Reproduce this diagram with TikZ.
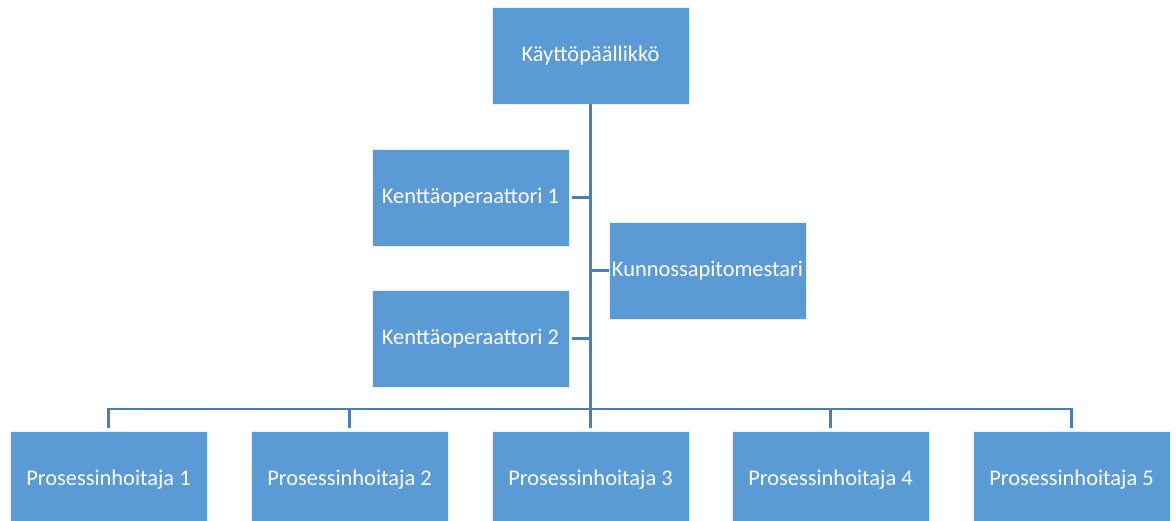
\documentclass[tikz,border=0pt]{standalone}
\usepackage{fontspec}
\setmainfont{Carlito}
\definecolor{boxfill}{HTML}{5B9BD5}
\definecolor{linkcol}{HTML}{4A7EBB}
\begin{document}
\begin{tikzpicture}[x=1pt,y=-1pt,
  orgbox/.style={draw=white!85!boxfill, line width=0.6pt, fill=boxfill, text=white,
    minimum width=197pt, minimum height=97pt, inner sep=0pt, font=\fontsize{22.4}{26}\selectfont},
  link/.style={draw=linkcol, line width=2.4pt},
  trunk/.style={draw=linkcol, line width=3.4pt}]
\useasboundingbox (0,0) rectangle (1176,521);
\node[orgbox] (top) at (590.5,55.5) {Käyttöpäällikkö};
\node[orgbox] (k1) at (470.5,197.5) {Kenttäoperaattori 1};
\node[orgbox] (k2) at (470.5,338.5) {Kenttäoperaattori 2};
\node[orgbox] (km) at (707.5,270.5) {Kunnossapitomestari};
\node[orgbox] (p1) at (108.5,479.5) {Prosessinhoitaja 1};
\node[orgbox] (p2) at (349.5,479.5) {Prosessinhoitaja 2};
\node[orgbox] (p3) at (590.5,479.5) {Prosessinhoitaja 3};
\node[orgbox] (p4) at (830.5,479.5) {Prosessinhoitaja 4};
\node[orgbox] (p5) at (1071.5,479.5) {Prosessinhoitaja 5};
\coordinate (bus) at (590.5,409);
% side branches off the trunk
\draw[link, shorten >=3pt] (k1.east -| top.south) -- (k1.east);
\draw[link, shorten >=3pt] (k2.east -| top.south) -- (k2.east);
\draw[link] (km.west -| top.south) -- (km.west);
% bus to the bottom row
\foreach \n in {p1,p2,p3,p4,p5}
  \draw[link, shorten >=3pt] (bus) -| (\n.north);
\draw[trunk] (top.south) -- (bus);
\end{tikzpicture}
\end{document}
